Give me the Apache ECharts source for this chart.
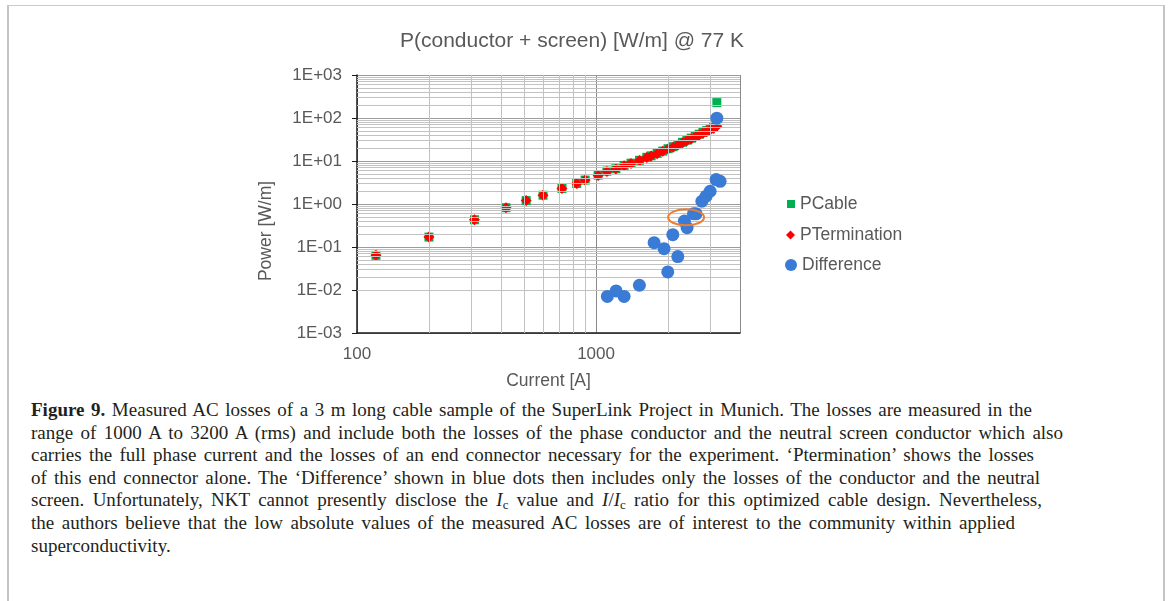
<!DOCTYPE html>
<html>
<head>
<meta charset="utf-8">
<title>P(conductor + screen)</title>
<script src="https://cdn.jsdelivr.net/npm/echarts@6/dist/echarts.min.js"></script>
<style>
  html, body { margin: 0; padding: 0; background: #fff; }
  #wrap { position: relative; width: 1170px; height: 601px; overflow: hidden; }
  #frame { position: absolute; left: 7px; top: 5px; width: 1154px; height: 640px;
           border-top: 1px solid #cacaca; border-left: 2px solid #c4c4c4; border-right: 2px solid #c4c4c4; }
  #main { position: absolute; left: 0; top: 0; width: 1170px; height: 395px; }
  #caption { position: absolute; left: 31px; top: 399px; font-family: "Liberation Serif", "Times New Roman", serif;
             font-size: 19px; color: #231f20; }
  .ln { height: 22.6px; line-height: 22.6px; white-space: nowrap; text-align: justify; text-align-last: justify; }
  .ln.last { text-align: left; text-align-last: left; }
  sub { font-size: 0.68em; vertical-align: -0.25em; line-height: 0; }
</style>
</head>
<body>
<div id="wrap">
  <div id="frame"></div>
  <div id="main"></div>
  <div id="caption">
    <div class="ln" style="width:1001px"><b>Figure 9.</b> Measured AC losses of a 3 m long cable sample of the SuperLink Project in Munich. The losses are measured in the</div>
    <div class="ln" style="width:1032px">range of 1000 A to 3200 A (rms) and include both the losses of the phase conductor and the neutral screen conductor which also</div>
    <div class="ln" style="width:1003px">carries the full phase current and the losses of an end connector necessary for the experiment. ‘Ptermination’ shows the losses</div>
    <div class="ln" style="width:1009px">of this end connector alone. The ‘Difference’ shown in blue dots then includes only the losses of the conductor and the neutral</div>
    <div class="ln" style="width:1011px">screen. Unfortunately, NKT cannot presently disclose the <i>I</i><sub>c</sub> value and <i>I</i>/<i>I</i><sub>c</sub> ratio for this optimized cable design. Nevertheless,</div>
    <div class="ln" style="width:984px">the authors believe that the low absolute values of the measured AC losses are of interest to the community within applied</div>
    <div class="ln last">superconductivity.</div>
  </div>
</div>
<script>
// current steps [A] shared by PCable and PTermination
var current = [120, 200, 310, 420, 510, 600, 720, 830, 900, 1020, 1110, 1210, 1310, 1400, 1520, 1630,
               1700, 1800, 1900, 2000, 2100, 2200, 2300, 2400, 2500, 2600, 2700, 2800, 2900, 3000, 3100, 3200];
var pCable = [0.064, 0.17, 0.43, 0.82, 1.2, 1.6, 2.3, 3.0, 3.6, 4.7, 5.8, 6.6, 7.9, 8.9, 10.4, 12.2,
              13.2, 15.0, 17.0, 19.3, 21.5, 24.0, 27.2, 30.5, 34.0, 37.5, 42, 46, 51, 56, 62, 228];
var pTermination = [0.064, 0.17, 0.43, 0.82, 1.2, 1.6, 2.3, 3.0, 3.6, 4.6, 5.7, 6.5, 7.8, 8.8, 10.3, 12.1,
                    13.0, 14.8, 16.8, 19.0, 21.0, 23.5, 26.5, 29.5, 32.5, 36, 40, 44, 48.5, 53, 58, 64];
// difference (blue dots)
var diffCurrent = [1115, 1213, 1310, 1518, 1749, 1925, 1995, 2197, 2094, 2342, 2403, 2554, 2620, 2770, 2886, 3000, 3178, 3302, 3200];
var diffPower = [0.0071, 0.0095, 0.0071, 0.0129, 0.126, 0.0916, 0.0263, 0.0598, 0.193, 0.40, 0.281, 0.593, 0.59, 1.16, 1.52, 1.98, 3.69, 3.37, 99];
// point marked by the orange ellipse
var circledPoint = [2380, 0.49];

var xRange = [100, 4000];
var yRange = [0.001, 1000];
var minorFactors = [2, 3, 4, 5, 6, 7, 8, 9];

function pairs(xs, ys) {
    return xs.map(function (x, i) { return [x, ys[i]]; });
}

// minor gridlines at 2..9 of every decade
var minorLines = [];
[100, 1000].forEach(function (d) {
    minorFactors.forEach(function (k) {
        if (k * d < xRange[1]) minorLines.push({ xAxis: k * d });
    });
});
[0.001, 0.01, 0.1, 1, 10, 100].forEach(function (d) {
    minorFactors.forEach(function (k) { minorLines.push({ yAxis: k * d }); });
});

function isDecade(v) {
    var e = Math.log10(v);
    return Math.abs(e - Math.round(e)) < 1e-6;
}

var grey = '#595959';
var font = '"Liberation Sans", Arial, sans-serif';

var chart = echarts.init(document.getElementById('main'));
var option = {
    animation: false,
    textStyle: { fontFamily: font },
    title: {
        text: 'P(conductor + screen) [W/m] @ 77 K',
        left: 567, top: 26, textAlign: 'center',
        textStyle: { color: grey, fontSize: 21, fontWeight: 'normal', fontFamily: font }
    },
    grid: { left: 357, right: 430, top: 75, bottom: 61, containLabel: false },
    legend: [
        { data: [{ name: 'PCable', icon: 'rect' }], left: 787, top: 195, padding: 0,
          itemWidth: 8, itemHeight: 8, textStyle: { color: grey, fontSize: 17.5 } },
        { data: [{ name: 'PTermination', icon: 'diamond' }], left: 786, top: 226, padding: 0,
          itemWidth: 9, itemHeight: 9, textStyle: { color: grey, fontSize: 17.5 } },
        { data: [{ name: 'Difference', icon: 'circle' }], left: 785, top: 256, padding: 0,
          itemWidth: 12, itemHeight: 12, textStyle: { color: grey, fontSize: 17.5 } }
    ],
    xAxis: {
        type: 'log', logBase: 10, min: xRange[0], max: xRange[1],
        name: 'Current [A]', nameLocation: 'middle', nameGap: 39,
        nameTextStyle: { color: grey, fontSize: 17.5 },
        axisLine: { onZero: false, lineStyle: { color: '#1a1a1a', width: 1.5 } },
        axisTick: { show: false },
        axisLabel: {
            color: grey, fontSize: 17, margin: 13,
            formatter: function (v) { return isDecade(v) ? String(Math.round(v)) : ''; }
        },
        splitLine: { show: true, lineStyle: { color: '#8a8a8a', width: 1 } }
    },
    yAxis: {
        type: 'log', logBase: 10, min: yRange[0], max: yRange[1],
        axisLine: { show: true, onZero: false, lineStyle: { color: '#1a1a1a', width: 1.5 } },
        axisTick: { show: true, length: 5, lineStyle: { color: '#1a1a1a' } },
        axisLabel: {
            color: grey, fontSize: 17, margin: 15,
            formatter: function (v) {
                var e = Math.round(Math.log10(v));
                var a = Math.abs(e);
                return '1E' + (e < 0 ? '-' : '+') + (a < 10 ? '0' : '') + a;
            }
        },
        splitLine: { show: true, lineStyle: { color: '#9c9c9c', width: 1 } }
    },
    series: [
        {
            name: 'minor', type: 'scatter', data: [], silent: true, z: 1,
            markLine: {
                silent: true, symbol: ['none', 'none'], animation: false,
                label: { show: false },
                lineStyle: { color: '#c2c2c2', width: 1, type: 'solid' },
                emphasis: { disabled: true },
                data: minorLines
            }
        },
        {
            name: 'PCable', type: 'scatter', symbol: 'rect', symbolSize: 9, z: 3,
            itemStyle: { color: '#00B050', opacity: 1 },
            data: pairs(current, pCable)
        },
        {
            name: 'PTermination', type: 'scatter', symbol: 'diamond', symbolSize: 11, z: 4,
            itemStyle: { color: '#FF0000', opacity: 1 },
            data: pairs(current, pTermination)
        },
        {
            name: 'Difference', type: 'scatter', symbol: 'circle', symbolSize: 13, z: 5,
            itemStyle: { color: '#3A7BD5', opacity: 1 },
            data: pairs(diffCurrent, diffPower)
        }
    ]
};
chart.setOption(option);

var c = chart.convertToPixel({ xAxisIndex: 0, yAxisIndex: 0 }, circledPoint);
chart.setOption({
    graphic: [
        {
            type: 'ellipse', z: 100, silent: true,
            shape: { cx: c[0], cy: c[1], rx: 18, ry: 8 },
            style: { fill: 'none', stroke: '#ED7D31', lineWidth: 2 }
        },
        {
            type: 'text', x: 266, y: 231, rotation: Math.PI / 2, silent: true,
            style: { text: 'Power [W/m]', fill: grey, font: '17.5px ' + font,
                     align: 'center', verticalAlign: 'middle', textAlign: 'center', textVerticalAlign: 'middle' }
        }
    ]
});
</script>
</body>
</html>
